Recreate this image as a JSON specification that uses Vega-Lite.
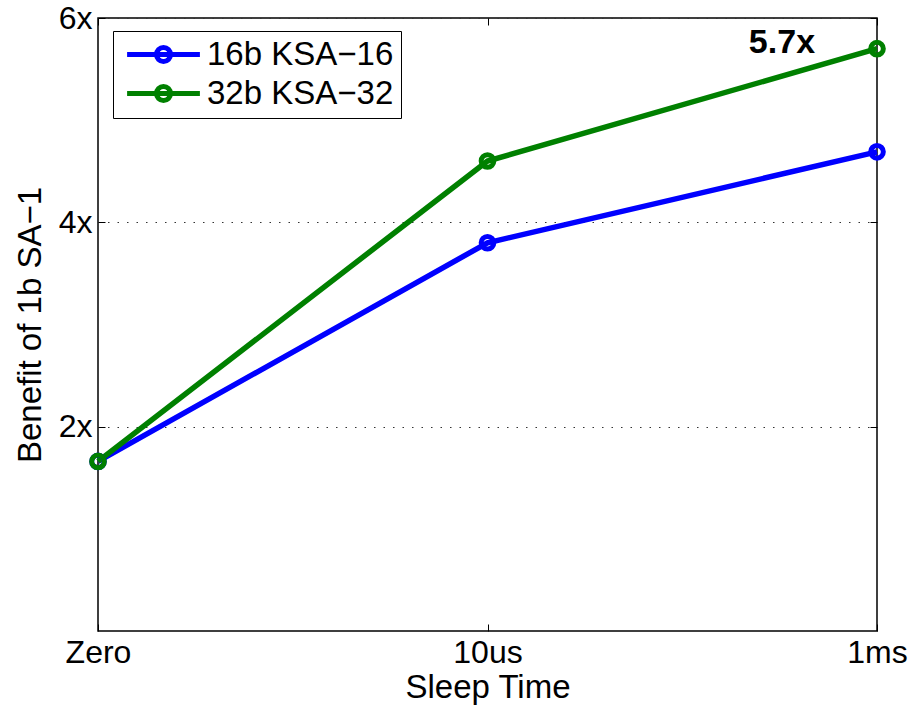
{
  "$schema": "https://vega.github.io/schema/vega-lite/v6.json",
  "width": 779,
  "height": 613,
  "autosize": {"type": "none"},
  "padding": {"left": 98, "top": 18, "right": 33, "bottom": 79},
  "background": "white",
  "config": {
    "font": "Liberation Sans",
    "view": {"stroke": "black", "strokeWidth": 1.5},
    "axis": {"domain": false, "labelFont": "Liberation Sans", "titleFont": "Liberation Sans", "labelColor": "black", "titleColor": "black", "titleFontWeight": "normal", "tickColor": "black", "tickWidth": 1}
  },
  "datasets": {
    "series": [
      {"time": "Zero", "idx": 0, "series": "16b KSA\u221216", "benefit": 1.66},
      {"time": "10us", "idx": 1, "series": "16b KSA\u221216", "benefit": 3.8},
      {"time": "1ms", "idx": 2, "series": "16b KSA\u221216", "benefit": 4.69},
      {"time": "Zero", "idx": 0, "series": "32b KSA\u221232", "benefit": 1.66},
      {"time": "10us", "idx": 1, "series": "32b KSA\u221232", "benefit": 4.6},
      {"time": "1ms", "idx": 2, "series": "32b KSA\u221232", "benefit": 5.7}
    ],
    "note": [{"idx": 1.756, "benefit": 5.66, "label": "5.7x"}]
  },
  "resolve": {"axis": {"x": "independent", "y": "independent"}},
  "layer": [
    {
      "data": {"name": "series"},
      "mark": {"type": "line", "strokeWidth": 5.5},
      "encoding": {
        "x": {
          "field": "idx", "type": "quantitative",
          "scale": {"domain": [0, 2], "nice": false, "zero": false},
          "axis": {"values": [0, 1, 2], "labelExpr": "datum.value == 0 ? 'Zero' : datum.value == 1 ? '10us' : '1ms'", "labelFontSize": 32, "tickSize": -7, "labelPadding": 13, "grid": false, "title": "Sleep Time", "titleFontSize": 33, "titleX": 389.5, "titleY": 66, "titleBaseline": "alphabetic", "labelFlush": false, "labelOverlap": false}
        },
        "y": {
          "field": "benefit", "type": "quantitative",
          "scale": {"domain": [0, 6], "nice": false},
          "axis": {"values": [2, 4, 6], "labelExpr": "datum.value + 'x'", "labelFontSize": 32, "tickSize": -7, "labelPadding": 13, "grid": true, "gridColor": "#333333", "gridDash": [1.5, 8], "gridWidth": 1, "title": "Benefit of 1b SA\u22121", "titleFontSize": 33, "titleX": -68, "titleY": 306.5, "titleBaseline": "middle", "labelFlush": false, "labelOverlap": false}
        },
        "color": {
          "field": "series", "type": "nominal",
          "scale": {"domain": ["16b KSA\u221216", "32b KSA\u221232"], "range": ["#0000ff", "#008000"]},
          "legend": {
            "title": null, "orient": "none", "legendX": 15, "legendY": 13,
            "strokeColor": "black", "fillColor": "white",
            "padding": 7, "labelFontSize": 33, "labelFont": "Liberation Sans", "labelColor": "black", "labelLimit": 400,
            "symbolType": "M -5.2 0 L 5.2 0 M 1 0 A 1 1 0 1 1 -1 0 A 1 1 0 1 1 1 0",
            "symbolSize": 196, "symbolStrokeWidth": 5, "symbolFillColor": "transparent",
            "symbolOffset": 27, "labelOffset": 27, "rowPadding": 4
          }
        }
      }
    },
    {
      "data": {"name": "series"},
      "mark": {"type": "point", "filled": false, "size": 160, "strokeWidth": 5, "opacity": 1},
      "encoding": {
        "x": {"field": "idx", "type": "quantitative", "axis": null},
        "y": {"field": "benefit", "type": "quantitative", "axis": null},
        "color": {"field": "series", "type": "nominal"}
      }
    },
    {
      "data": {"name": "note"},
      "mark": {"type": "text", "fontSize": 34, "fontWeight": "bold", "align": "center", "baseline": "alphabetic", "color": "black", "font": "Liberation Sans"},
      "encoding": {
        "x": {"field": "idx", "type": "quantitative", "axis": {"orient": "top", "values": [0, 1, 2], "labels": false, "tickSize": -7, "grid": false, "title": null}},
        "y": {"field": "benefit", "type": "quantitative", "axis": {"orient": "right", "values": [2, 4, 6], "labels": false, "tickSize": -7, "grid": false, "title": null}},
        "text": {"field": "label"}
      }
    }
  ]
}
